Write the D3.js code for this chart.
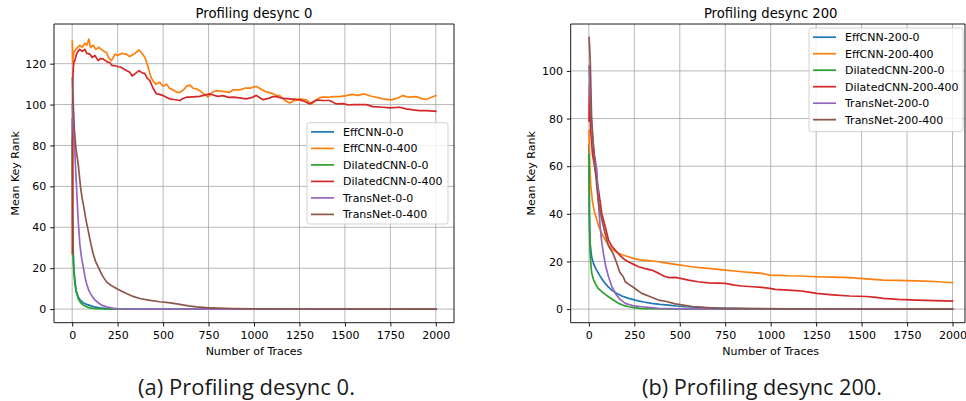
<!DOCTYPE html>
<html>
<head>
<meta charset="utf-8">
<script src="https://cdn.jsdelivr.net/npm/d3@7"></script>
<style>
  html, body { margin: 0; padding: 0; background: #ffffff; }
  svg { display: block; }
  text { font-family: "DejaVu Sans", sans-serif; fill: #000; }
  .caption { font-family: "Open Sans", "Lato", sans-serif; fill: #1a1a1a; }
</style>
</head>
<body>
<svg id="fig" width="966" height="401"></svg>
<script>
// ---- Data: mean key rank vs number of attack traces ----
const xTicks = [0, 250, 500, 750, 1000, 1250, 1500, 1750, 2000];
const yTicksA = [0, 20, 40, 60, 80, 100, 120];
const yTicksB = [0, 20, 40, 60, 80, 100];

const namesA = ["EffCNN-0-0", "EffCNN-0-400", "DilatedCNN-0-0", "DilatedCNN-0-400", "TransNet-0-0", "TransNet-0-400"];
const namesB = ["EffCNN-200-0", "EffCNN-200-400", "DilatedCNN-200-0", "DilatedCNN-200-400", "TransNet-200-0", "TransNet-200-400"];
const colors = ["#1f77b4", "#ff7f0e", "#2ca02c", "#d62728", "#9467bd", "#8c564b"];

// Profiling desync 0
const effA0 = [[1,93],[3,45],[6,27],[10,19],[15,14],[22,9],[33,6],[45,4.3],[61,3.1],[80,2.3],[97,1.8],[120,1.1],[152,0.6],[190,0.3],[240,0.1],[400,0],[2000,0]];
const effA400 = [[1,131],[3,120],[6,124],[12,126],[20,127],[30,128],[42,129],[55,128],[70,130],[80,129],[92,132],[100,128],[116,129],[130,127],[145,128],[161,127],[175,126],[189,125.5],[200,123],[216,121.5],[225,123],[235,124.7],[250,124],[270,125],[299,124.7],[315,123.5],[326,124],[345,125],[368,126.7],[385,125],[400,123],[412,120],[423,116.6],[435,113],[445,111.7],[460,110],[482,110.9],[500,109],[519,110],[535,108],[555,107.2],[575,106],[592,106],[610,107],[630,109],[647,109.5],[665,108],[683,107.7],[702,106.8],[720,105.5],[738,104.4],[747,103.6],[770,106],[793,106.8],[830,106.5],[866,106],[885,107.2],[921,107.2],[950,108],[980,108],[1004,108.8],[1013,108.8],[1040,107.5],[1068,106.2],[1100,105.5],[1123,104.4],[1141,104.4],[1170,102],[1196,100.8],[1220,102],[1233,102],[1251,102.8],[1288,102.3],[1315,100.3],[1340,102],[1361,103.4],[1379,103.6],[1410,103.6],[1434,103.9],[1471,103.9],[1508,104.4],[1540,105],[1570,104.5],[1608,105.2],[1640,104.2],[1672,103.6],[1709,102.8],[1755,102.3],[1785,103],[1819,104.4],[1850,103.6],[1892,103.9],[1920,103],[1947,102.5],[1970,103.3],[2000,104.4]];
const dilA0 = [[1,83],[3,40],[6,24],[10,17],[15,12.5],[22,8.5],[33,5.2],[45,3.3],[61,2],[80,1.1],[97,0.6],[120,0.3],[152,0.1],[250,0],[2000,0]];
const dilA400 = [[1,27],[3,110],[6,118],[10,121],[15,121.5],[24,124.7],[32,126],[42,127],[55,126],[70,127],[80,125],[97,124.7],[110,123],[125,124],[143,121.5],[155,122.5],[170,122.3],[190,121],[207,120.6],[220,119],[235,119],[255,118.5],[271,118.2],[290,117],[317,115.8],[330,114],[345,115],[368,116.6],[385,115.5],[399,115.3],[412,113],[427,111.7],[445,108],[464,105.2],[482,105],[500,104.4],[520,103.5],[537,102.8],[560,102.5],[592,102],[610,103],[629,103.6],[647,103.6],[700,104],[757,105.2],[775,104.7],[800,104],[830,104.4],[860,103.5],[885,103.6],[921,103.3],[958,102.8],[990,103.5],[1013,104.5],[1030,103.5],[1049,102.4],[1080,103],[1104,103.9],[1123,103.9],[1160,103],[1196,102.8],[1230,102.5],[1251,102.3],[1280,101.5],[1306,100.3],[1343,102.3],[1380,102],[1416,102],[1453,100.3],[1490,100.5],[1520,99.8],[1544,100],[1580,100],[1618,100],[1654,99],[1709,98.7],[1746,98.4],[1800,98.7],[1837,97.9],[1874,97.4],[1910,97],[1950,97],[2000,96.7]];
const transA0 = [[1,100],[6,88],[15,76],[24,59.7],[33,43.4],[42,32],[50,26],[61,20.6],[70,16],[79,12.5],[92,9],[106,6.8],[125,4.5],[143,3.1],[165,1.8],[189,1.1],[220,0.5],[253,0.15],[350,0],[2000,0]];
const transA400 = [[1,113],[6,100],[12,88],[20,79],[33,71],[46,59.7],[55,54],[64,50],[75,44],[88,38.5],[100,33],[115,27.2],[128,23.5],[143,20.6],[165,16.5],[189,13.3],[215,11.5],[244,10.1],[270,8.8],[299,7.6],[335,6.2],[372,5.2],[420,4.4],[482,3.6],[540,3],[592,2.3],[640,1.6],[683,1.1],[740,0.7],[800,0.5],[880,0.3],[1000,0.15],[1200,0.05],[2000,0]];

// Profiling desync 200
const effB0 = [[1,69],[3,40],[7,27.6],[15,22],[25,19.2],[38,17],[53,15],[70,12.8],[90,10.8],[108,9.2],[126,8],[150,6.8],[181,5.5],[215,4.6],[255,3.8],[300,3],[346,2.4],[390,2],[438,1.7],[480,1.3],[530,1],[590,0.8],[658,0.55],[750,0.35],[841,0.2],[1000,0.1],[1300,0.05],[2000,0]];
const effB400 = [[1,75],[5,60],[10,52],[20,45],[30,41],[44,37.4],[55,34.5],[71,31.8],[90,29],[108,26.9],[130,25],[163,23.4],[190,22.6],[218,22],[250,21.2],[291,20.6],[330,20.4],[383,19.9],[430,19.3],[475,18.8],[520,18.3],[566,17.8],[610,17.4],[658,17.1],[700,16.8],[750,16.4],[800,16],[841,15.7],[900,15.3],[951,15],[995,14.3],[1050,14.2],[1100,14],[1160,13.9],[1252,13.6],[1340,13.4],[1435,13.2],[1527,12.7],[1619,12.2],[1700,12.1],[1802,11.9],[1900,11.6],[2000,11.1]];
const dilB0 = [[1,65],[3,35],[7,23.4],[12,18],[16,15],[25,12.5],[35,10.8],[50,8.8],[71,7.3],[90,6.2],[108,5.2],[135,3.8],[163,2.4],[190,1.6],[218,1],[250,0.6],[291,0.2],[400,0.05],[2000,0]];
const dilB400 = [[1,79],[3,94],[6,82],[10,75],[20,65],[35,58.4],[53,50],[71,40.2],[90,34.6],[108,29],[125,26.5],[145,24.8],[170,22.6],[200,20.6],[235,19.2],[273,17.8],[310,17],[346,16.4],[385,15],[420,13.6],[445,13.2],[475,13.3],[510,12.8],[548,12.2],[600,11.5],[658,11],[700,10.9],[750,10.8],[800,10.1],[841,9.7],[900,9.4],[951,9.1],[995,8.7],[1025,8.3],[1100,8],[1160,7.7],[1210,7.1],[1252,6.6],[1340,6],[1435,5.5],[1527,5.3],[1580,4.9],[1619,4.5],[1700,4.1],[1802,3.8],[1900,3.6],[2000,3.4]];
const transB0 = [[1,102],[5,92],[10,85],[20,72],[30,65],[44,58.4],[53,44.4],[62,34.6],[70,28.5],[80,23.4],[92,18.2],[108,13.6],[125,9.8],[145,6.6],[170,4.2],[200,2.4],[240,1.5],[291,1],[340,0.6],[383,0.3],[500,0.1],[2000,0]];
const transB400 = [[1,114],[4,110],[8,103],[15,80],[24,69.6],[35,58.4],[51,45.8],[70,38],[90,31.5],[108,26.5],[134,23.2],[150,20],[170,15.5],[189,13.6],[200,11.5],[220,10.4],[244,9.2],[291,6.6],[335,5.3],[383,3.8],[427,3.2],[475,2.2],[519,1.7],[570,1.1],[629,0.7],[700,0.45],[794,0.3],[900,0.2],[1100,0.1],[1400,0.05],[2000,0]];

const seriesA = [effA0, effA400, dilA0, dilA400, transA0, transA400];
const seriesB = [effB0, effB400, dilB0, dilB400, transB0, transB400];

// ---- Drawing ----
const svg = d3.select("#fig");
const FS = 11;          // tick / legend / label font size
const TICK = 3.85;      // tick length
const PAD = 3.85;       // tick label padding

function drawPanel(cfg) {
  const g = svg.append("g");
  const x = d3.scaleLinear().domain([-99.95, 2099.95]).range([cfg.left, cfg.left + 400]);
  const y = d3.scaleLinear().domain(cfg.yDomain).range([cfg.bottom, cfg.top]);
  const right = Math.min(cfg.left + 400, cfg.rightEdge);

  const clipId = "clip-" + cfg.id;
  svg.append("defs").append("clipPath").attr("id", clipId)
    .append("rect").attr("x", cfg.left).attr("y", cfg.top)
    .attr("width", right - cfg.left).attr("height", cfg.bottom - cfg.top);

  // grid
  const grid = g.append("g").attr("stroke", "#b0b0b0").attr("stroke-width", 0.9);
  grid.selectAll("line.vx").data(xTicks).join("line")
    .attr("x1", d => x(d)).attr("x2", d => x(d))
    .attr("y1", cfg.top).attr("y2", cfg.bottom);
  grid.selectAll("line.hy").data(cfg.yTicks).join("line")
    .attr("x1", cfg.left).attr("x2", right)
    .attr("y1", d => y(d)).attr("y2", d => y(d));

  // lines
  const line = d3.line().x(d => x(d[0])).y(d => y(d[1]));
  g.append("g").attr("clip-path", `url(#${clipId})`)
    .selectAll("path").data(cfg.series).join("path")
    .attr("d", d => line(d))
    .attr("fill", "none")
    .attr("stroke", (d, i) => colors[i])
    .attr("stroke-width", 1.7)
    .attr("stroke-linejoin", "round")
    .attr("stroke-linecap", "square");

  // axes
  const xAxis = d3.axisBottom(x).tickValues(xTicks).tickFormat(d3.format("d"))
    .tickSizeInner(TICK).tickSizeOuter(0).tickPadding(PAD);
  const yAxis = d3.axisLeft(y).tickValues(cfg.yTicks).tickFormat(d3.format("d"))
    .tickSizeInner(TICK).tickSizeOuter(0).tickPadding(PAD);
  const xa = g.append("g").attr("transform", `translate(0,${cfg.bottom})`).call(xAxis);
  const ya = g.append("g").attr("transform", `translate(${cfg.left},0)`).call(yAxis);
  [xa, ya].forEach(a => {
    a.select(".domain").remove();
    a.selectAll(".tick line").attr("stroke", "#000").attr("stroke-width", 0.9);
    a.selectAll(".tick text").attr("font-family", "DejaVu Sans").attr("font-size", FS).attr("fill", "#000");
  });
  xa.selectAll(".tick text").attr("dy", "0.76em");

  // spines
  const sp = g.append("g").attr("stroke", "#000").attr("stroke-width", 0.9).attr("fill", "none");
  sp.append("line").attr("x1", cfg.left).attr("x2", cfg.left).attr("y1", cfg.top).attr("y2", cfg.bottom);
  sp.append("line").attr("x1", cfg.left).attr("x2", right).attr("y1", cfg.bottom).attr("y2", cfg.bottom);
  sp.append("line").attr("x1", cfg.left).attr("x2", right).attr("y1", cfg.top).attr("y2", cfg.top);
  sp.append("line").attr("x1", right).attr("x2", right).attr("y1", cfg.top).attr("y2", cfg.bottom);

  // title and axis labels
  const cx = cfg.left + 200;
  g.append("text").attr("x", cx).attr("y", 18.3).attr("text-anchor", "middle")
    .attr("font-size", 13.2).text(cfg.title);
  g.append("text").attr("x", cx).attr("y", 355).attr("text-anchor", "middle")
    .attr("font-size", FS).text("Number of Traces");
  g.append("text").attr("transform", `translate(${cfg.left - 35.5},${(cfg.top + cfg.bottom) / 2}) rotate(-90)`)
    .attr("text-anchor", "middle").attr("font-size", FS).text("Mean Key Rank");

  // legend
  const L = cfg.legend;
  const lg = g.append("g");
  lg.append("rect").attr("x", L.x).attr("y", L.y).attr("width", L.w).attr("height", L.h)
    .attr("rx", 2.5).attr("fill", "#ffffff").attr("fill-opacity", 0.8)
    .attr("stroke", "#cccccc").attr("stroke-width", 0.9);
  const items = lg.selectAll("g.item").data(cfg.names).join("g")
    .attr("transform", (d, i) => `translate(0,${L.y + 9.2 + i * 16.5})`);
  items.append("line").attr("x1", L.x + 4).attr("x2", L.x + 27).attr("y1", 0).attr("y2", 0)
    .attr("stroke", (d, i) => colors[i]).attr("stroke-width", 1.7);
  items.append("text").attr("x", L.x + 36).attr("y", 0).attr("dy", "0.36em")
    .attr("font-size", FS).text(d => d);

  // caption, sized to span its measured width under the panel
  const cap = svg.append("text").attr("class", "caption").attr("x", cfg.capX).attr("y", 394.5)
    .attr("text-anchor", "middle").attr("font-size", 20).text(cfg.caption);
  const w = cap.node().getComputedTextLength();
  if (w > 0) cap.attr("font-size", 20 * cfg.capW / w);
}

drawPanel({
  id: "a", left: 54, top: 24, bottom: 322.7, rightEdge: 1000,
  yDomain: [-6.65, 139.4], yTicks: yTicksA, series: seriesA, names: namesA,
  title: "Profiling desync 0",
  legend: { x: 307, y: 122.7, w: 141, h: 101.3 },
  caption: "(a) Profiling desync 0.", capX: 246.5, capW: 217
});
drawPanel({
  id: "b", left: 570.7, top: 24, bottom: 322.7, rightEdge: 965,
  yDomain: [-5.7, 119.7], yTicks: yTicksB, series: seriesB, names: namesB,
  title: "Profiling desync 200",
  legend: { x: 809, y: 28, w: 154, h: 103.7 },
  caption: "(b) Profiling desync 200.", capX: 762, capW: 240
});
</script>
</body>
</html>
